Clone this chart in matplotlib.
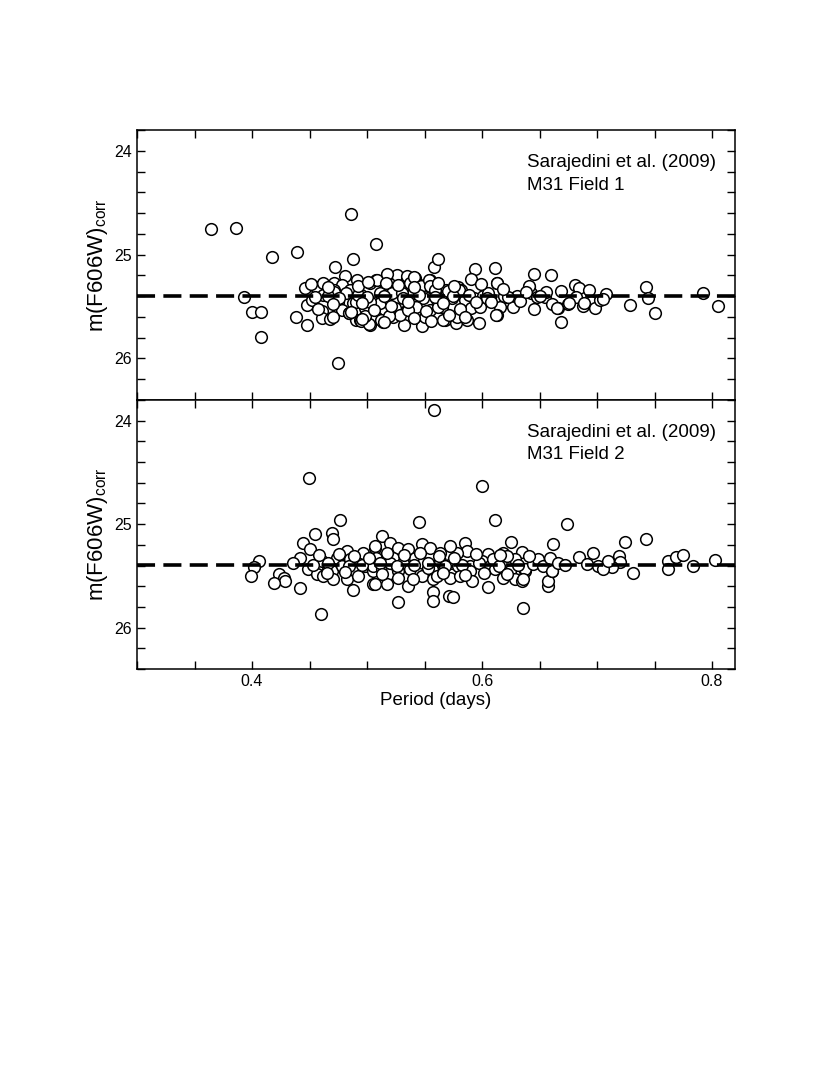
import matplotlib
matplotlib.use('Agg')
import matplotlib.pyplot as plt
from matplotlib.ticker import MultipleLocator

plt.rcParams['font.family'] = ['Liberation Sans', 'DejaVu Sans']

# Field 1 (Sarajedini et al. 2009): period (days), corrected F606W magnitude
f1_period = [
    0.364, 0.386, 0.393, 0.400, 0.408, 0.408, 0.417, 0.439, 0.438, 0.486,
    0.4745, 0.472, 0.488, 0.508, 0.558, 0.562, 0.594, 0.611, 0.645, 0.660,
    0.669, 0.729, 0.743, 0.744, 0.750, 0.792, 0.805,
    0.446, 0.456, 0.462, 0.471, 0.481, 0.478, 0.491, 0.485, 0.503, 0.508,
    0.517, 0.516, 0.448, 0.452, 0.448, 0.461, 0.461, 0.468, 0.472, 0.475,
    0.478, 0.488, 0.484, 0.490, 0.494, 0.503, 0.498, 0.511, 0.511, 0.508,
    0.514, 0.520, 0.523, 0.526, 0.495, 0.482, 0.462, 0.471, 0.503,
    0.590, 0.613, 0.526, 0.535, 0.542, 0.537, 0.546, 0.555, 0.555, 0.569,
    0.579, 0.582, 0.601, 0.620, 0.627, 0.526, 0.532, 0.540, 0.549, 0.561,
    0.574, 0.585, 0.593, 0.607, 0.524, 0.535, 0.543, 0.555, 0.565, 0.578,
    0.590, 0.598, 0.616, 0.627, 0.613, 0.597, 0.568, 0.577, 0.548, 0.532,
    0.523, 0.529, 0.550, 0.587,
    0.630, 0.641, 0.643, 0.648, 0.655, 0.656, 0.645, 0.661, 0.666, 0.669,
    0.675, 0.681, 0.684, 0.682, 0.688, 0.693, 0.695, 0.698, 0.703, 0.708,
    0.471, 0.484, 0.490, 0.4945, 0.502, 0.498, 0.5085, 0.512, 0.517, 0.5165,
    0.519, 0.522, 0.530, 0.5346, 0.537, 0.5406, 0.5353, 0.547, 0.554, 0.555,
    0.5614, 0.559, 0.5665, 0.570, 0.5785, 0.580, 0.601, 0.605, 0.613, 0.6125,
    0.619, 0.630, 0.641, 0.650, 0.665, 0.676, 0.689, 0.705,
    0.455, 0.466, 0.476, 0.492, 0.500, 0.515, 0.531, 0.545, 0.559, 0.575,
    0.589, 0.604, 0.623, 0.457, 0.470, 0.486, 0.496, 0.506, 0.521, 0.536,
    0.551, 0.566, 0.581, 0.595, 0.451, 0.466, 0.492, 0.501, 0.527, 0.541,
    0.562, 0.576, 0.599, 0.470, 0.496, 0.515, 0.541, 0.556, 0.571, 0.585,
    0.608, 0.618, 0.633, 0.638,
]
f1_mag = [
    24.75, 24.744, 25.405, 25.55, 25.55, 25.79, 25.02, 24.975, 25.598, 24.605,
    26.047, 25.116, 25.045, 24.90, 25.12, 25.045, 25.135, 25.126, 25.19, 25.196,
    25.646, 25.485, 25.315, 25.42, 25.56, 25.366, 25.49,
    25.32, 25.31, 25.276, 25.276, 25.21, 25.29, 25.244, 25.34, 25.276, 25.244,
    25.196, 25.276, 25.485, 25.437, 25.678, 25.54, 25.613, 25.623, 25.39, 25.453,
    25.533, 25.469, 25.565, 25.63, 25.63, 25.678, 25.517, 25.373, 25.469, 25.598,
    25.646, 25.437, 25.565, 25.34, 25.389, 25.373, 25.389, 25.34, 25.453,
    25.23, 25.27, 25.196, 25.228, 25.228, 25.276, 25.29, 25.244, 25.31, 25.34,
    25.31, 25.34, 25.405, 25.405, 25.42, 25.42, 25.389, 25.373, 25.42, 25.437,
    25.42, 25.437, 25.42, 25.42, 25.517, 25.533, 25.50, 25.533, 25.50, 25.598,
    25.517, 25.50, 25.50, 25.50, 25.581, 25.66, 25.63, 25.66, 25.687, 25.678,
    25.598, 25.581, 25.598, 25.63,
    25.405, 25.31, 25.373, 25.405, 25.405, 25.357, 25.527, 25.476, 25.517, 25.35,
    25.476, 25.29, 25.325, 25.405, 25.495, 25.34, 25.453, 25.517, 25.437, 25.38,
    25.36, 25.56, 25.46, 25.64, 25.665, 25.59, 25.24, 25.63, 25.19, 25.27,
    25.59, 25.37, 25.37, 25.21, 25.27, 25.22, 25.53, 25.30, 25.24, 25.30,
    25.50, 25.34, 25.63, 25.35, 25.60, 25.34, 25.40, 25.37, 25.27, 25.58,
    25.40, 25.40, 25.30, 25.40, 25.51, 25.47, 25.47, 25.43,
    25.41, 25.40, 25.42, 25.39, 25.41, 25.40, 25.42, 25.39, 25.41, 25.40,
    25.39, 25.42, 25.41, 25.52, 25.48, 25.55, 25.47, 25.53, 25.49, 25.46,
    25.54, 25.47, 25.52, 25.46, 25.28, 25.31, 25.30, 25.26, 25.29, 25.31,
    25.27, 25.30, 25.28, 25.60, 25.62, 25.65, 25.61, 25.64, 25.58, 25.60,
    25.46, 25.33, 25.45, 25.36,
]
f1_mean = 25.40

# Field 2
f2_period = [
    0.558, 0.4496, 0.5997, 0.4765, 0.6116, 0.5455, 0.6737, 0.7426, 0.724, 0.6614,
    0.6249, 0.513, 0.4548, 0.4693, 0.4707, 0.4446, 0.4504, 0.4417, 0.4359, 0.4063,
    0.4017, 0.3988, 0.4237, 0.4278, 0.4285, 0.4194, 0.4417, 0.460, 0.4881, 0.5273,
    0.5577, 0.5577, 0.5709, 0.5744, 0.6055, 0.6354, 0.6577, 0.6577, 0.6843, 0.6968,
    0.7194, 0.720, 0.7128, 0.7011, 0.7055, 0.691, 0.7316, 0.762, 0.762, 0.769,
    0.7745, 0.7832, 0.8026, 0.635, 0.637, 0.6484, 0.6605,
    0.449, 0.4562, 0.4562, 0.4606, 0.462, 0.4693, 0.4707, 0.4736, 0.478, 0.4823,
    0.4852, 0.4823, 0.4924, 0.4968, 0.4983, 0.5055, 0.5055, 0.507,
    0.507, 0.520, 0.5272, 0.536, 0.5475, 0.5548, 0.5635, 0.5852, 0.5867, 0.6055,
    0.523, 0.5316, 0.5417, 0.549, 0.5635, 0.5736, 0.5794, 0.5896, 0.5997, 0.607,
    0.5055, 0.5128, 0.5185, 0.5272, 0.5374, 0.5475, 0.5562, 0.5577, 0.5722, 0.5809,
    0.5896, 0.591, 0.611, 0.507, 0.5171, 0.536, 0.578, 0.5606, 0.5533, 0.5403,
    0.520, 0.5722, 0.611, 0.508, 0.517,
    0.6185, 0.6287, 0.6215, 0.6098, 0.6185, 0.6243, 0.6287, 0.6345, 0.6374, 0.6446,
    0.649, 0.6533, 0.6591, 0.6606, 0.6663, 0.6722, 0.7099, 0.636,
    0.453, 0.466, 0.484, 0.496, 0.511, 0.526, 0.541, 0.553, 0.568, 0.583,
    0.597, 0.615, 0.631, 0.458, 0.476, 0.489, 0.502, 0.532, 0.546, 0.563,
    0.576, 0.595, 0.616, 0.641, 0.465, 0.481, 0.513, 0.527, 0.566, 0.585,
    0.602, 0.622,
]
f2_mag = [
    23.90, 24.55, 24.628, 24.962, 24.958, 24.978, 24.994, 25.14, 25.17, 25.19,
    25.174, 25.11, 25.093, 25.084, 25.141, 25.18, 25.244, 25.324, 25.372, 25.357,
    25.41, 25.50, 25.485, 25.52, 25.55, 25.57, 25.613, 25.864, 25.64, 25.757,
    25.66, 25.74, 25.69, 25.70, 25.604, 25.815, 25.60, 25.55, 25.315, 25.283,
    25.309, 25.37, 25.41, 25.405, 25.437, 25.389, 25.476, 25.36, 25.43, 25.32,
    25.302, 25.405, 25.347, 25.265, 25.45, 25.35, 25.45,
    25.437, 25.405, 25.485, 25.357, 25.50, 25.453, 25.533, 25.324, 25.405, 25.26,
    25.34, 25.533, 25.50, 25.276, 25.405, 25.581, 25.453, 25.228,
    25.21, 25.18, 25.228, 25.244, 25.196, 25.228, 25.276, 25.18, 25.26, 25.293,
    25.324, 25.372, 25.324, 25.372, 25.357, 25.372, 25.405, 25.405, 25.357, 25.405,
    25.405, 25.437, 25.485, 25.453, 25.437, 25.50, 25.437, 25.533, 25.517, 25.50,
    25.453, 25.55, 25.437, 25.58, 25.58, 25.598, 25.276, 25.50, 25.42, 25.533,
    25.372, 25.21, 25.34, 25.324, 25.276,
    25.276, 25.34, 25.31, 25.34, 25.517, 25.453, 25.533, 25.55, 25.437, 25.389,
    25.34, 25.405, 25.324, 25.453, 25.372, 25.398, 25.357, 25.533,
    25.39, 25.38, 25.40, 25.39, 25.38, 25.40, 25.39, 25.38, 25.40, 25.39,
    25.38, 25.40, 25.39, 25.30, 25.29, 25.31, 25.33, 25.30, 25.28, 25.31,
    25.33, 25.29, 25.30, 25.31, 25.47, 25.46, 25.48, 25.52, 25.47, 25.49,
    25.47, 25.48,
]
f2_mean = 25.39

panels = [
    (f1_period, f1_mag, f1_mean, 'M31 Field 1'),
    (f2_period, f2_mag, f2_mean, 'M31 Field 2'),
]

fig = plt.figure(figsize=(8.3, 10.75), dpi=100)
ax1 = fig.add_axes([137 / 830, 1 - 400 / 1075, 598 / 830, 270 / 1075])
ax2 = fig.add_axes([137 / 830, 1 - 669 / 1075, 598 / 830, 269 / 1075])

for ax, (per, mag, mean, field) in zip([ax1, ax2], panels):
    ax.plot(per, mag, 'o', ms=8.4, mfc='white', mec='black', mew=1.1, zorder=2)
    ax.axhline(mean, color='black', lw=2.6, ls=(0, (5, 2.3)), zorder=3)
    ax.set_xlim(0.3, 0.82)
    ax.set_ylim(26.4, 23.8)
    ax.xaxis.set_major_locator(MultipleLocator(0.2))
    ax.xaxis.set_minor_locator(MultipleLocator(0.05))
    ax.yaxis.set_major_locator(MultipleLocator(1))
    ax.yaxis.set_minor_locator(MultipleLocator(0.2))
    ax.tick_params(which='both', direction='in', top=True, right=True,
                   length=6, width=1.0, labelsize=11.5)
    for s in ax.spines.values():
        s.set_linewidth(1.1)
    ax.set_ylabel('m(F606W)$_\\mathregular{corr}$', fontsize=16)
    ax.yaxis.set_label_coords(-0.045, 0.5)
    ax.text(0.652, 0.881, 'Sarajedini et al. (2009)', transform=ax.transAxes,
            fontsize=13.5, va='center', ha='left')
    ax.text(0.652, 0.796, field, transform=ax.transAxes,
            fontsize=13.5, va='center', ha='left')

ax1.tick_params(labelbottom=False)
ax2.set_xlabel('Period (days)', fontsize=13.5, labelpad=2)

fig.savefig('out.png', dpi=100)
